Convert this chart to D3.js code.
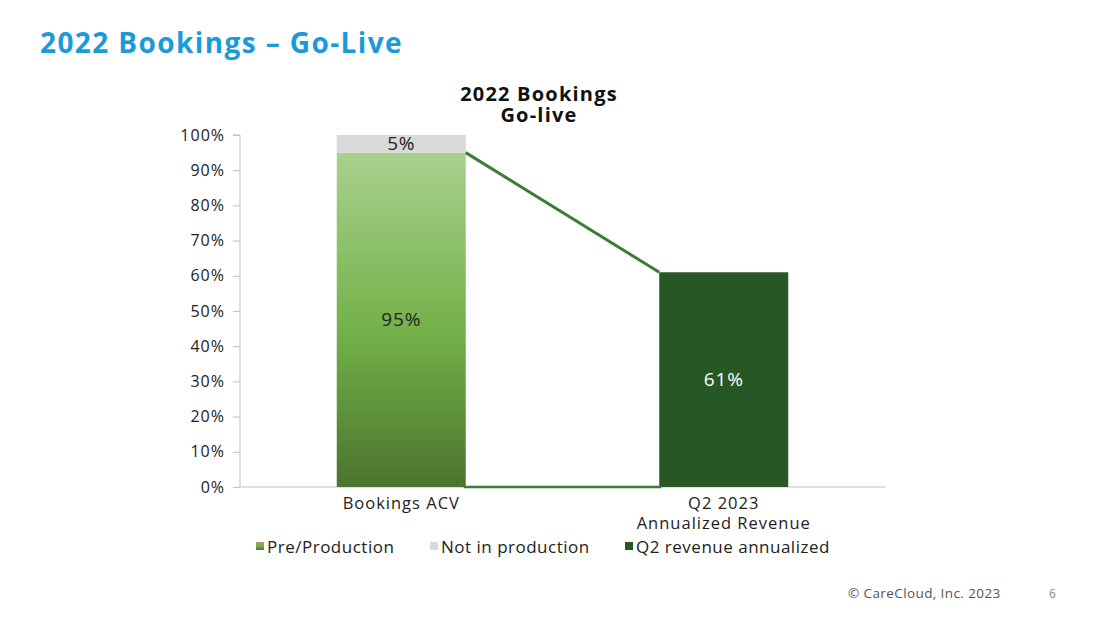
<!DOCTYPE html>
<html>
  <head>
    <meta charset="UTF-8" />
    <title>2022 Bookings – Go-Live</title>
    <script src="https://d3js.org/d3.v7.min.js"></script>
    <style>
      body { margin: 0; background: #fff; }
      svg { display: block; font-family: "Open Sans", "Noto Sans", sans-serif; }
      .axis path, .axis line { stroke: #bfbfbf; }
      .axis text { fill: #222; }
      .y-axis text { font-size: 16px; letter-spacing: 1px; }
      .x-axis text { font-size: 16.5px; letter-spacing: 1px; }
    </style>
  </head>
  <body>
    <svg id="chart" width="1100" height="619"></svg>
    <script>
      const categories = ["Bookings ACV", "Q2 2023|Annualized Revenue"];
      const preProduction = [95, 0];
      const notInProduction = [5, 0];
      const q2Revenue = [0, 61];
      const yTicks = [0, 10, 20, 30, 40, 50, 60, 70, 80, 90, 100];
      const legendNames = ["Pre/Production", "Not in production", "Q2 revenue annualized"];

      const svg = d3.select("#chart");
      const margin = { left: 240, right: 215, top: 135, bottom: 132 };
      const width = 1100 - margin.left - margin.right;
      const height = 619 - margin.top - margin.bottom;

      const defs = svg.append("defs");
      const grad = defs.append("linearGradient")
        .attr("id", "greenGrad").attr("x1", 0).attr("y1", 0).attr("x2", 0).attr("y2", 1);
      grad.append("stop").attr("offset", "0%").attr("stop-color", "#a9d18e");
      grad.append("stop").attr("offset", "55%").attr("stop-color", "#72b047");
      grad.append("stop").attr("offset", "100%").attr("stop-color", "#4b7430");
      const legGrad = defs.append("linearGradient")
        .attr("id", "legGrad").attr("x1", 0).attr("y1", 0).attr("x2", 0).attr("y2", 1);
      legGrad.append("stop").attr("offset", "0%").attr("stop-color", "#c8906a");
      legGrad.append("stop").attr("offset", "50%").attr("stop-color", "#72b047");
      legGrad.append("stop").attr("offset", "100%").attr("stop-color", "#4b7430");

      // slide title
      svg.append("text").attr("x", 40).attr("y", 53)
        .attr("fill", "#1a9ad9").attr("font-size", 28).attr("font-weight", 700)
        .attr("letter-spacing", 1.4)
        .text("2022 Bookings – Go-Live");

      // chart title, two lines
      ["2022 Bookings", "Go-live"].forEach((line, i) => {
        svg.append("text").attr("x", 539).attr("y", 101 + i * 21).attr("text-anchor", "middle")
          .attr("font-size", 20).attr("font-weight", 700).attr("fill", "#111")
          .attr("letter-spacing", 1.2).text(line);
      });

      const g = svg.append("g").attr("transform", `translate(${margin.left},${margin.top})`);

      const x = d3.scaleBand().domain(categories).range([0, width]).paddingInner(0.6).paddingOuter(0.3);
      const y = d3.scaleLinear().domain([0, 100]).range([height, 0]);

      const yAxis = g.append("g").attr("class", "axis y-axis")
        .call(d3.axisLeft(y).tickValues(yTicks).tickFormat(d => d + "%").tickSize(7).tickPadding(8));
      yAxis.attr("font-family", null).attr("font-size", null);
      yAxis.select(".domain").attr("d", `M-7,0H0V${height}`);

      const xAxis = g.append("g").attr("class", "axis x-axis")
        .attr("transform", `translate(0,${height})`)
        .call(d3.axisBottom(x).tickSize(0).tickPadding(10));
      xAxis.attr("font-family", null).attr("font-size", null);
      xAxis.select(".domain").attr("d", `M0,0H${width}`);
      xAxis.selectAll(".tick text").each(function (d) {
        const t = d3.select(this).text(null);
        d.split("|").forEach((line, i) => {
          t.append("tspan").attr("x", 0).attr("dy", i === 0 ? "0.71em" : "1.2em").text(line);
        });
      });

      // stacked bars
      const bars = g.append("g");
      const label = (xc, yc, txt, fill) =>
        bars.append("text").attr("x", xc).attr("y", yc + 6).attr("text-anchor", "middle")
          .attr("font-size", 19).attr("letter-spacing", 0.8).attr("fill", fill).text(txt);
      categories.forEach((c, i) => {
        const x0 = x(c), bw = x.bandwidth();
        if (preProduction[i] > 0) {
          bars.append("rect").attr("x", x0).attr("width", bw)
            .attr("y", y(preProduction[i])).attr("height", y(0) - y(preProduction[i]))
            .attr("fill", "url(#greenGrad)");
          label(x0 + bw / 2, y(preProduction[i] / 2), preProduction[i] + "%", "#222");
        }
        if (notInProduction[i] > 0) {
          const top = preProduction[i] + notInProduction[i];
          bars.append("rect").attr("x", x0).attr("width", bw)
            .attr("y", y(top)).attr("height", y(preProduction[i]) - y(top))
            .attr("fill", "#d9d9d9");
          label(x0 + bw / 2, y(top - notInProduction[i] / 2), notInProduction[i] + "%", "#222");
        }
        if (q2Revenue[i] > 0) {
          bars.append("rect").attr("x", x0).attr("width", bw)
            .attr("y", y(q2Revenue[i])).attr("height", y(0) - y(q2Revenue[i]))
            .attr("fill", "#285726");
          label(x0 + bw / 2, y(q2Revenue[i] / 2), q2Revenue[i] + "%", "#fff");
        }
      });

      // connector lines between the bars
      const xa = x(categories[0]) + x.bandwidth();
      const xb = x(categories[1]);
      g.append("line").attr("x1", xa).attr("x2", xb)
        .attr("y1", y(preProduction[0])).attr("y2", y(q2Revenue[1]))
        .attr("stroke", "#3b7d32").attr("stroke-width", 3);
      g.append("line").attr("x1", xa - 2).attr("x2", xb + 2)
        .attr("y1", y(0)).attr("y2", y(0))
        .attr("stroke", "#3b7d32").attr("stroke-width", 2.5);

      // legend
      const legFills = ["url(#legGrad)", "#d9d9d9", "#285726"];
      const legX = [256, 430, 625];
      legendNames.forEach((name, i) => {
        svg.append("rect").attr("x", legX[i]).attr("y", 542).attr("width", 8).attr("height", 8)
          .attr("fill", legFills[i]);
        svg.append("text").attr("x", legX[i] + 11).attr("y", 553)
          .attr("font-size", 17).attr("letter-spacing", 0.5).attr("fill", "#222").text(name);
      });

      // footer
      svg.append("text").attr("x", 848).attr("y", 598).attr("font-size", 13.5)
        .attr("letter-spacing", 0.4).attr("fill", "#555")
        .text("© CareCloud, Inc. 2023");
      svg.append("text").attr("x", 1049).attr("y", 598).attr("font-size", 12).attr("fill", "#888")
        .text("6");
    </script>
  </body>
</html>
